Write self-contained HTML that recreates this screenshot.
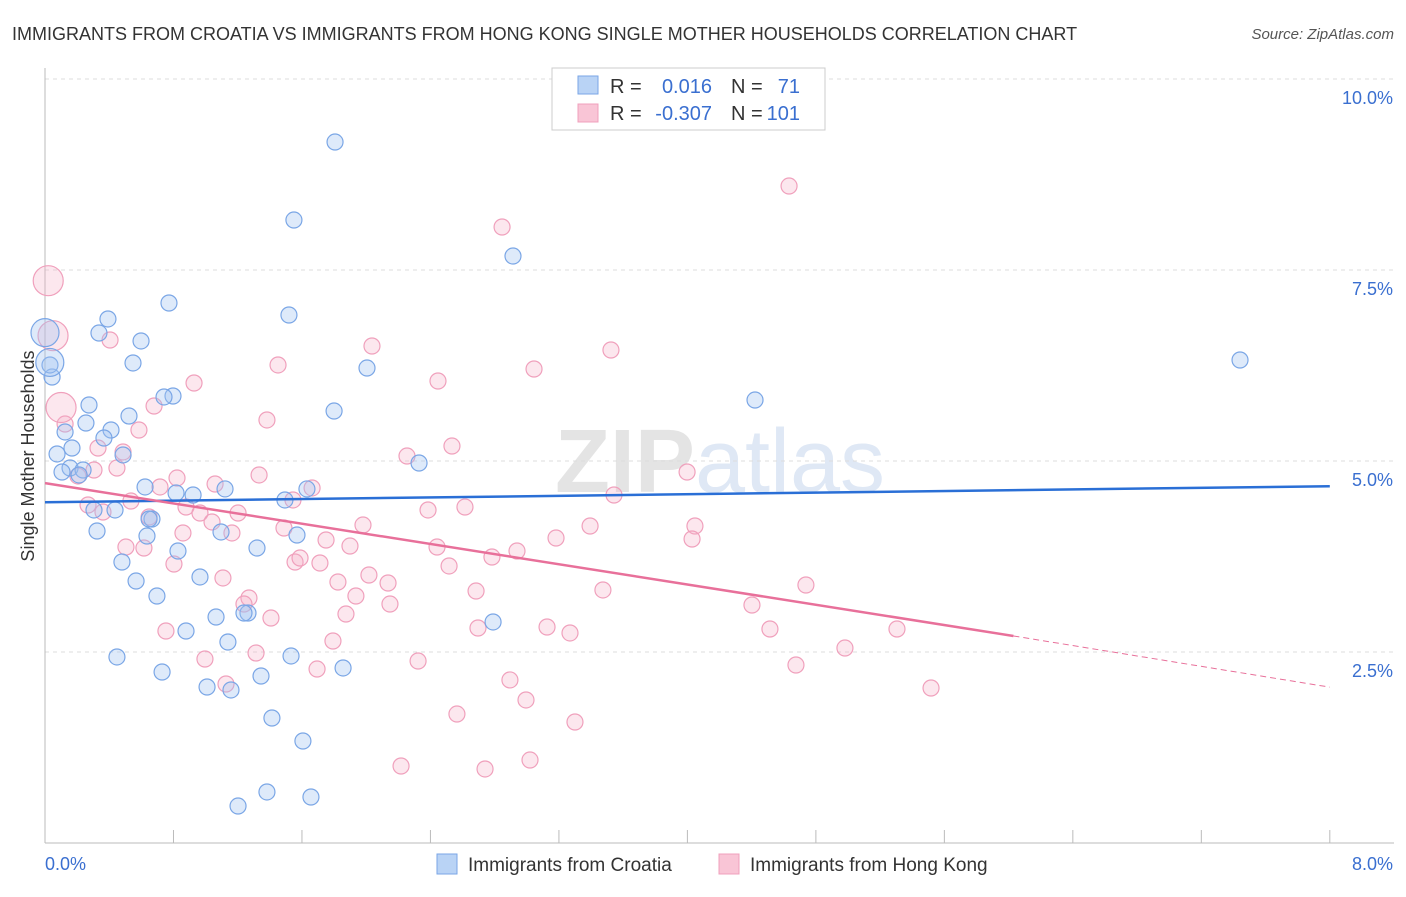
<!DOCTYPE html>
<html><head><meta charset="utf-8"><style>
body{margin:0;background:#fff;font-family:"Liberation Sans",sans-serif;}
svg text{font-family:"Liberation Sans",sans-serif;}
</style></head><body>
<svg width="1406" height="892" xmlns="http://www.w3.org/2000/svg">
<text x="12" y="40" font-size="18" fill="#333">IMMIGRANTS FROM CROATIA VS IMMIGRANTS FROM HONG KONG SINGLE MOTHER HOUSEHOLDS CORRELATION CHART</text>
<text x="1394" y="39" font-size="15" fill="#555" text-anchor="end" font-style="italic">Source: ZipAtlas.com</text>
<text x="720" y="492" font-size="90" fill="#e4e4e4" text-anchor="middle" font-family="Liberation Serif" font-weight="bold">ZIP<tspan fill="#dfe8f5" font-family="Liberation Sans" font-weight="normal">atlas</tspan></text>
<g id="grid"></g>
<g id="axes"></g>
<g id="pts"></g>
<g id="trends"></g>
<text transform="translate(34,456) rotate(-90)" font-size="18" fill="#333" text-anchor="middle">Single Mother Households</text>
<g>
<rect x="552" y="68" width="273" height="62" fill="#fff" stroke="#ccc"/>
<rect x="578" y="76" width="20" height="18" fill="#b9d3f5" stroke="#7aa6e6"/>
<rect x="578" y="104" width="20" height="18" fill="#f9c5d6" stroke="#f0a0bc"/>
<text x="610" y="93" font-size="20" fill="#333">R =</text>
<text x="712" y="93" font-size="20" fill="#3a6fd0" text-anchor="end">0.016</text>
<text x="731" y="93" font-size="20" fill="#333">N =</text>
<text x="800" y="93" font-size="20" fill="#3a6fd0" text-anchor="end">71</text>
<text x="610" y="120" font-size="20" fill="#333">R =</text>
<text x="712" y="120" font-size="20" fill="#3a6fd0" text-anchor="end">-0.307</text>
<text x="731" y="120" font-size="20" fill="#333">N =</text>
<text x="800" y="120" font-size="20" fill="#3a6fd0" text-anchor="end">101</text>
</g>
<g>
<rect x="437" y="854" width="20" height="20" fill="#b9d3f5" stroke="#7aa6e6"/>
<text x="468" y="871" font-size="19" fill="#333">Immigrants from Croatia</text>
<rect x="719" y="854" width="20" height="20" fill="#f9c5d6" stroke="#f0a0bc"/>
<text x="750" y="871" font-size="19" fill="#333">Immigrants from Hong Kong</text>
</g>
</svg>
<script>
const yTicks=[2.5,5.0,7.5,10.0];
const xTickLabels=["0.0%","8.0%"];
const bluePx=[[335,142],[294,220],[513,256],[169,303],[289,315],[108,319],[99,333],[141,341],[133,363],[367,368],[52,377],[50,365],[173,396],[164,397],[89,405],[129,416],[334,411],[755,400],[1240,360],[86,423],[111,430],[65,432],[104,438],[123,455],[57,454],[72,448],[419,463],[70,468],[83,470],[62,472],[79,475],[145,487],[176,493],[193,495],[225,489],[285,500],[307,489],[94,510],[115,510],[152,519],[149,519],[97,531],[221,532],[297,535],[147,536],[178,551],[257,548],[122,562],[200,577],[136,581],[157,596],[216,617],[248,613],[244,613],[186,631],[493,622],[228,642],[117,657],[291,656],[162,672],[343,668],[261,676],[207,687],[231,690],[272,718],[303,741],[267,792],[311,797],[238,806]];
const pinkPx=[[789,186],[502,227],[110,340],[372,346],[611,350],[278,365],[534,369],[194,383],[438,381],[154,406],[267,420],[139,430],[65,424],[123,452],[98,448],[452,446],[407,456],[687,472],[259,475],[117,468],[94,470],[78,476],[177,478],[215,484],[160,487],[312,488],[293,500],[614,495],[465,507],[428,510],[131,501],[88,505],[186,507],[200,513],[238,513],[103,512],[149,517],[212,522],[363,525],[590,526],[695,526],[183,533],[232,533],[284,528],[326,540],[692,539],[556,538],[126,547],[350,546],[144,548],[437,547],[517,551],[492,557],[295,562],[300,558],[174,564],[320,563],[449,566],[223,578],[369,575],[338,582],[388,583],[806,585],[476,591],[603,590],[249,598],[356,596],[390,604],[244,604],[271,618],[346,614],[752,605],[166,631],[478,628],[547,627],[570,633],[770,629],[897,629],[333,641],[256,653],[205,659],[418,661],[845,648],[317,669],[796,665],[510,680],[226,684],[931,688],[526,700],[457,714],[575,722],[530,760],[401,766],[485,769]];
const blueX=bluePx.map(p=>+((p[0]-45)/160.6).toFixed(3)), blueY=bluePx.map(p=>+((843-p[1])/76.4).toFixed(3));
const pinkX=pinkPx.map(p=>+((p[0]-45)/160.6).toFixed(3)), pinkY=pinkPx.map(p=>+((843-p[1])/76.4).toFixed(3));
const blueBigX=[0.0,0.03], blueBigY=[6.68,6.29];
const pinkBigX=[0.02,0.05,0.1], pinkBigY=[7.36,6.64,5.7];
const blueTrend=[[0,4.46],[8,4.67]];
const pinkTrend=[[0,4.71],[6.03,2.71],[8,2.04]];
const X=v=>45+v*160.6, Y=v=>843-v*76.4;
const NS="http://www.w3.org/2000/svg";
function mk(tag,attrs,parent){const e=document.createElementNS(NS,tag);for(const k in attrs)e.setAttribute(k,attrs[k]);document.getElementById(parent).appendChild(e);return e;}
yTicks.forEach(t=>{
 const l=mk('line',{x1:45,x2:1394,y1:Y(t),y2:Y(t),stroke:'#ddd','stroke-dasharray':'4,4'},'grid');
 
 
 const tx=mk('text',{x:1393,y:Y(t)+25,'font-size':18,fill:'#3a6fd0','text-anchor':'end'},'grid');
 tx.textContent=t.toFixed(1)+'%';
 
 
});
const topLine=mk('line',{x1:45,x2:1394,y1:79,y2:79,stroke:'#ddd','stroke-dasharray':'4,4'},'grid');


const ax=mk('line',{x1:45,x2:1394,y1:843,y2:843,stroke:'#bbb'},'axes');


const ay=mk('line',{x1:45,x2:45,y1:68,y2:843,stroke:'#bbb'},'axes');


for(let i=1;i<=10;i++){const t=mk('line',{x1:X(i*0.8),x2:X(i*0.8),y1:830,y2:843,stroke:'#bbb'},'axes');
 
 }
[[0,"start",45],[1,"end",1393]].forEach(([i,a,x])=>{const t=mk('text',{x:x,y:870,'font-size':18,fill:'#3a6fd0','text-anchor':a},'axes');t.textContent=xTickLabels[i];
 
 });
function dots(xs,ys,r,fill,stroke,name){xs.forEach((x,i)=>{const c=mk('circle',{cx:X(x),cy:Y(ys[i]),r:r,fill:fill,stroke:stroke,'stroke-width':1.2},'pts');
 
 });}
dots(pinkX,pinkY,8,'rgba(246,175,200,0.3)','#f0a0bc','pink-point');
dots(pinkBigX,pinkBigY,15,'rgba(246,175,200,0.3)','#f0a0bc','pink-point');
dots(blueX,blueY,8,'rgba(160,195,240,0.35)','#7aa6e6','blue-point');
dots(blueBigX,blueBigY,14,'rgba(160,195,240,0.35)','#7aa6e6','blue-point');
const bl=mk('line',{x1:X(blueTrend[0][0]),y1:Y(blueTrend[0][1]),x2:X(blueTrend[1][0]),y2:Y(blueTrend[1][1]),stroke:'#2a6fd6','stroke-width':2.5},'trends');


const pl=mk('line',{x1:X(pinkTrend[0][0]),y1:Y(pinkTrend[0][1]),x2:X(pinkTrend[1][0]),y2:Y(pinkTrend[1][1]),stroke:'#e8709a','stroke-width':2.5},'trends');


const pd=mk('line',{x1:X(pinkTrend[1][0]),y1:Y(pinkTrend[1][1]),x2:X(pinkTrend[2][0]),y2:Y(pinkTrend[2][1]),stroke:'#e8709a','stroke-width':1,'stroke-dasharray':'6,4'},'trends');


</script>
</body></html>
